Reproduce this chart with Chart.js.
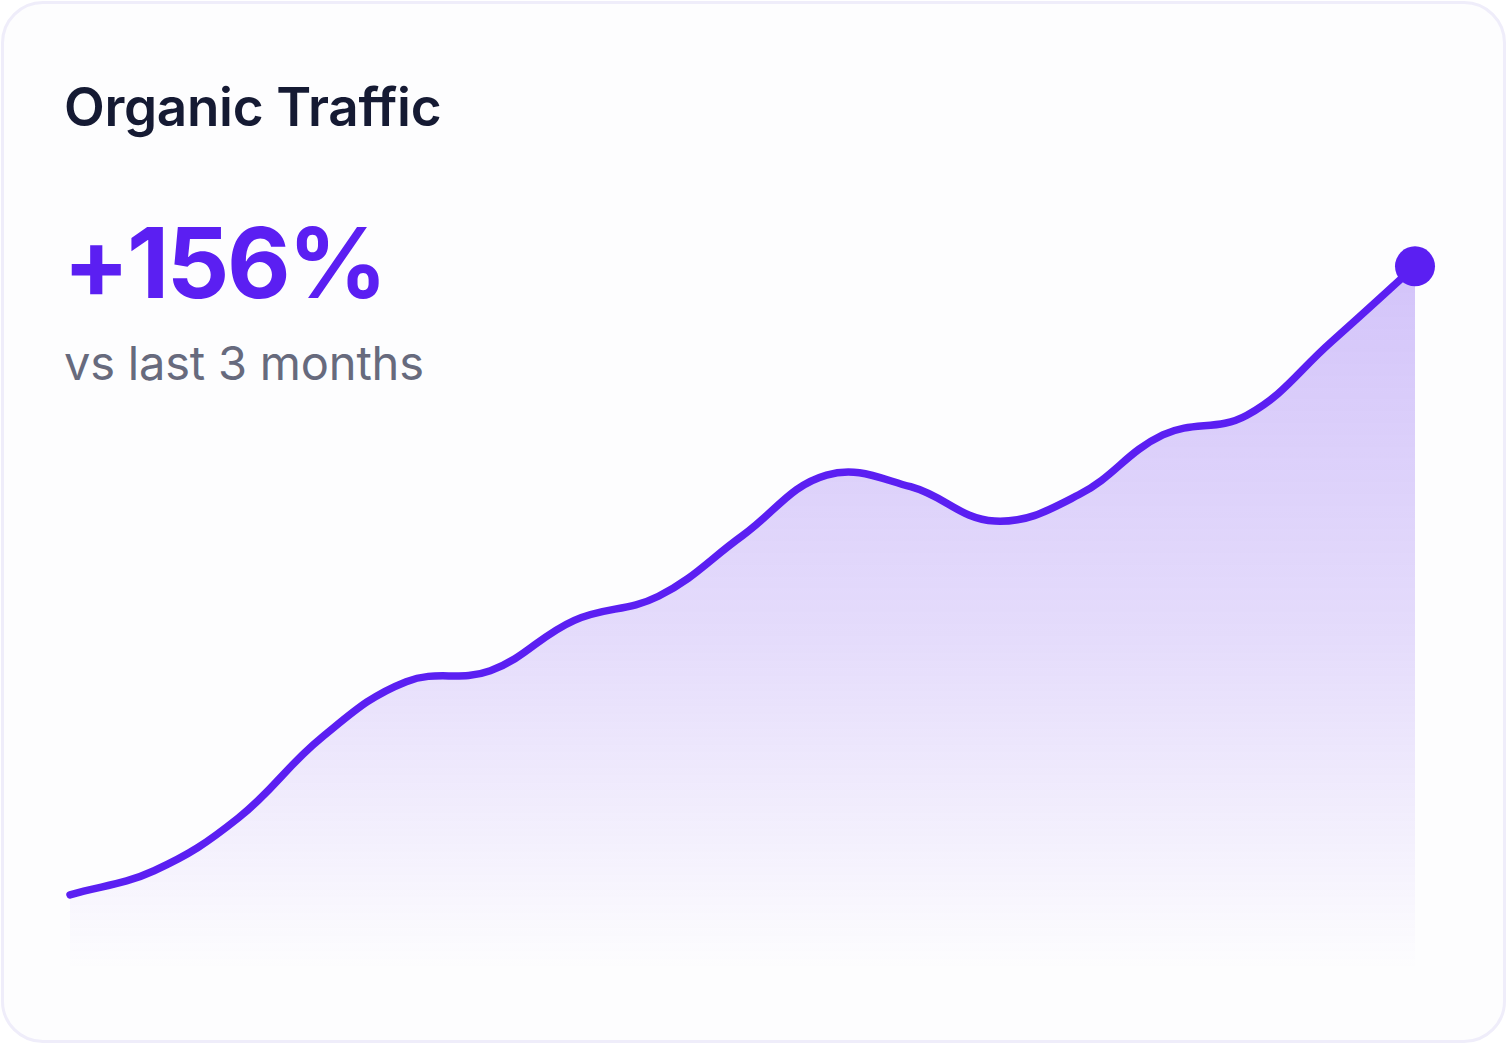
<!DOCTYPE html>
<html>
<head>
<meta charset="utf-8">
<script src="https://cdn.jsdelivr.net/npm/chart.js@4.4.1/dist/chart.umd.min.js"></script>
<style>
  html, body { margin: 0; padding: 0; background: #ffffff; }
  body { width: 1507px; height: 1044px; position: relative; overflow: hidden; }
  .card {
    position: absolute; left: 1px; top: 1px; width: 1499px; height: 1036px;
    border: 3px solid #efedfa; border-radius: 42px; background: #fdfdfe;
  }
  .txt { position: absolute; white-space: nowrap; line-height: 1; font-family: Inter, "Noto Sans", sans-serif; }
  #title { left: 64px; top: 81px; font-size: 53px; font-weight: 600; color: #151a33; letter-spacing: -0.3px; }
  #big { left: 63px; top: 214px; font-size: 98px; font-weight: 700; color: #5b1ff2; letter-spacing: -2.5px; }
  #sub { left: 64px; top: 339px; font-size: 47px; font-weight: 400; color: #676a7d; letter-spacing: -0.2px; }
  #wrap { position: absolute; left: 0; top: 0; width: 1507px; height: 1044px; }
</style>
</head>
<body>
<div class="card"></div>
<div id="title" class="txt">Organic Traffic</div>
<div id="big" class="txt">+156%</div>
<div id="sub" class="txt">vs last 3 months</div>
<div id="wrap"><canvas id="c" width="1507" height="1044"></canvas></div>
<script>
// Weekly organic traffic index
const weeks = ["W1","W2","W3","W4","W5","W6","W7","W8","W9","W10","W11","W12","W13","W14","W15","W16","W17"];
const traffic = [10.3, 13.6, 20.8, 31.9, 39.5, 41.0, 47.9, 51.2, 59.5, 67.8, 66.2, 61.5, 65.1, 73.3, 76.0, 86.0, 96.4];
const yMin = 0;
const yMax = 100;

const lineColor = '#5b1ff2';
const ctx = document.getElementById('c').getContext('2d');

const chart = new Chart(ctx, {
  type: 'line',
  data: {
    labels: weeks,
    datasets: [{
      data: traffic,
      borderColor: lineColor,
      borderWidth: 7.5,
      borderCapStyle: 'round',
      borderJoinStyle: 'round',
      tension: 0.4,
      fill: 'start',
      clip: false,
      backgroundColor: (c) => {
        const area = c.chart.chartArea;
        if (!area) return 'rgba(107,59,245,0.2)';
        const g = c.chart.ctx.createLinearGradient(0, area.top, 0, area.bottom);
        g.addColorStop(0, 'rgba(112,60,240,0.30)');
        g.addColorStop(0.55, 'rgba(112,60,240,0.17)');
        g.addColorStop(1, 'rgba(112,60,240,0.0)');
        return g;
      },
      pointRadius: (c) => c.dataIndex === traffic.length - 1 ? 20 : 0,
      pointHoverRadius: (c) => c.dataIndex === traffic.length - 1 ? 20 : 0,
      pointBackgroundColor: lineColor,
      pointBorderWidth: 0
    }]
  },
  options: {
    responsive: false,
    animation: false,
    layout: { padding: { left: 70, right: 92, top: 240, bottom: 74 } },
    plugins: { legend: { display: false }, tooltip: { enabled: false } },
    scales: {
      x: { display: false },
      y: { display: false, min: yMin, max: yMax }
    }
  }
});
</script>
</body>
</html>
